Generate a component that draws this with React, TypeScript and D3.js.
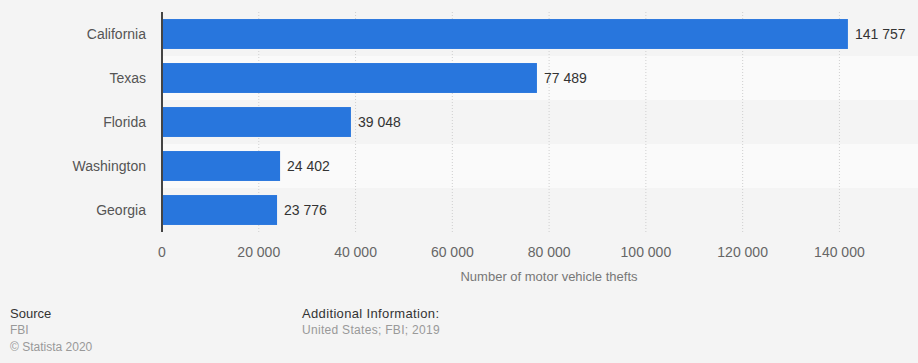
import React, { useEffect } from "react";
import * as d3 from "d3";

const states = ["California", "Texas", "Florida", "Washington", "Georgia"];
const thefts = [141757, 77489, 39048, 24402, 23776];
const xTicks = [0, 20000, 40000, 60000, 80000, 100000, 120000, 140000];

const sourceLines = ["FBI", "© Statista 2020"];
const infoLines = ["United States; FBI; 2019"];

const layout = {
    width: 918,
    height: 363,
    left: 162,
    right: 912,
    top: 12,
    bottom: 232
};

const font = "'Liberation Sans', Arial, Helvetica, sans-serif";
const fmt = (v: number) => d3.format(",")(v).replace(/,/g, " ");

const App = () => {
    useEffect(() => {
        document.body.style.margin = "0";
    }, []);

    const xScale = d3
        .scaleLinear()
        .domain([0, 155000])
        .range([layout.left, layout.right]);

    const yScale = d3
        .scaleBand()
        .domain(states)
        .range([layout.top, layout.bottom])
        .paddingInner(0.32)
        .paddingOuter(0.16);

    const rowScale = d3
        .scaleBand()
        .domain(states)
        .range([layout.top, layout.bottom]);

    const rows = states.map((s, i) => (
        <rect
            key={"row" + s}
            x={layout.left}
            y={rowScale(s)}
            width={layout.width - layout.left}
            height={rowScale.bandwidth()}
            fill={i % 2 === 1 ? "#fafafa" : "#f4f4f4"}
        />
    ));

    const grid = xTicks.slice(1).map(t => (
        <line
            key={"grid" + t}
            x1={xScale(t)}
            x2={xScale(t)}
            y1={layout.top}
            y2={layout.bottom}
            stroke="#cfcfcf"
            strokeWidth={1}
            strokeDasharray="1,2"
        />
    ));

    const bars = states.map((s, i) => (
        <g key={"bar" + s}>
            <rect
                x={xScale(0)}
                y={yScale(s)}
                width={xScale(thefts[i]) - xScale(0)}
                height={yScale.bandwidth()}
                fill="#2876dd"
            />
            <text
                x={xScale(thefts[i]) + 7}
                y={(yScale(s) as number) + yScale.bandwidth() / 2}
                dy="0.35em"
                fontSize={14}
                fill="#333"
            >
                {fmt(thefts[i])}
            </text>
            <text
                x={layout.left - 16}
                y={(yScale(s) as number) + yScale.bandwidth() / 2}
                dy="0.35em"
                textAnchor="end"
                fontSize={14}
                fill="#555"
            >
                {s}
            </text>
        </g>
    ));

    const tickLabels = xTicks.map(t => (
        <text
            key={"tick" + t}
            x={xScale(t)}
            y={257}
            textAnchor="middle"
            fontSize={14}
            fill="#666"
        >
            {fmt(t)}
        </text>
    ));

    return (
        <svg
            width={layout.width}
            height={layout.height}
            style={{ display: "block", fontFamily: font, background: "#f4f4f4" }}
        >
            <rect width={layout.width} height={layout.height} fill="#f4f4f4" />
            {rows}
            {grid}
            {bars}
            <line
                x1={layout.left}
                x2={layout.left}
                y1={layout.top}
                y2={layout.bottom}
                stroke="#444"
                strokeWidth={2}
            />
            {tickLabels}
            <text x={549} y={281} textAnchor="middle" fontSize={13} fill="#777">
                Number of motor vehicle thefts
            </text>

            <text x={10} y={318} fontSize={13} fill="#333">
                Source
            </text>
            {sourceLines.map((l, i) => (
                <text key={l} x={10} y={334 + i * 17} fontSize={12} fill="#999">
                    {l}
                </text>
            ))}
            <text x={302} y={318} fontSize={13} fill="#333" letterSpacing={0.35}>
                Additional Information:
            </text>
            {infoLines.map((l, i) => (
                <text
                    key={l}
                    x={302}
                    y={334 + i * 17}
                    fontSize={12}
                    fill="#999"
                    letterSpacing={0.3}
                >
                    {l}
                </text>
            ))}
        </svg>
    );
};

export default App;
